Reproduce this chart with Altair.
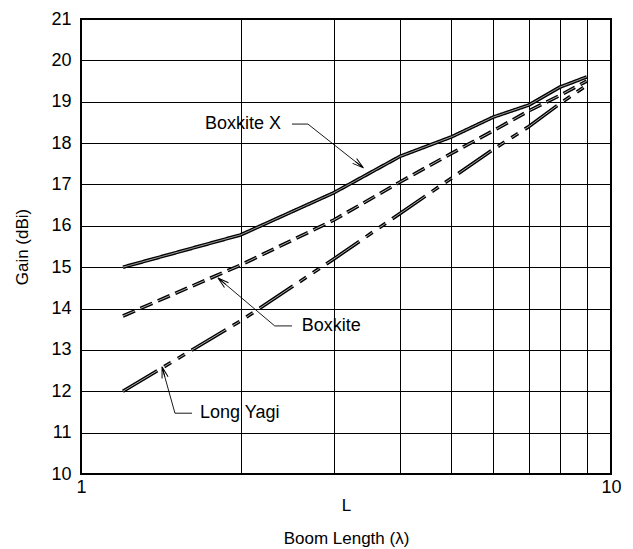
import altair as alt
import pandas as pd

# Boom length (wavelengths) at which gain was read for each antenna
boom_length = [1.2, 2, 3, 4, 5, 6, 7, 8, 9]

# Gain (dBi) for each design
gain_boxkite_x = [15.0, 15.78, 16.8, 17.68, 18.15, 18.63, 18.92, 19.35, 19.6]
gain_boxkite = [13.82, 15.05, 16.14, 17.06, 17.75, 18.3, 18.78, 19.15, 19.5]
gain_long_yagi = [12.0, 13.7, 15.2, 16.3, 17.15, 17.85, 18.4, 18.95, 19.4]

series_names = ["Boxkite X", "Boxkite", "Long Yagi"]
series_dash = [[1, 0], [13, 6], [40, 8, 8, 8, 8, 8]]

# Callout labels: text anchor, leader elbow/start, and arrow tip on the curve
label_text = ["Boxkite X", "Boxkite", "Long Yagi"]
label_L = [1.714, 2.61, 1.677]
label_gain = [18.46, 13.58, 11.47]
leader_start_L = [2.50, 2.50, 1.62]
leader_elbow_L = [2.68, 2.32, 1.504]
tip_L = [3.41, 1.813, 1.422]
tip_gain = [17.40, 14.74, 12.59]
arrow_angle = [128.7, 310.1, 344.2]

FONT = "Liberation Sans"

rows = []
for name, gains in zip(series_names, [gain_boxkite_x, gain_boxkite, gain_long_yagi]):
    for L, g in zip(boom_length, gains):
        rows.append({"series": name, "L": L, "gain": g})
curves = pd.DataFrame(rows)

leader_rows = []
for i, name in enumerate(label_text):
    leader_rows.append({"grp": name, "k": 0, "L": leader_start_L[i], "gain": label_gain[i]})
    leader_rows.append({"grp": name, "k": 1, "L": leader_elbow_L[i], "gain": label_gain[i]})
    leader_rows.append({"grp": name, "k": 2, "L": tip_L[i], "gain": tip_gain[i]})
leaders = pd.DataFrame(leader_rows)

labels = pd.DataFrame({"label": label_text, "L": label_L, "gain": label_gain})
arrows = pd.DataFrame({"L": tip_L, "gain": tip_gain, "angle": arrow_angle})

x_axis = alt.Axis(
    values=list(range(1, 11)),
    format="~g",
    labelExpr="datum.value == 1 || datum.value == 10 ? datum.label : ''",
    labelPadding=4,
    labelFlush=False,
    labelOverlap=False,
    title=["L", "Boom Length (λ)"],
    titleLineHeight=33,
    titleY=36,
    titleBaseline="alphabetic",
)
y_axis = alt.Axis(
    values=list(range(10, 22)),
    labelPadding=10,
    labelFlush=False,
    title="Gain (dBi)",
    titleX=-59,
    titleY=227.5,
    titleAngle=270,
    titleAlign="center",
    titleBaseline="middle",
)

x_enc = alt.X("L:Q", scale=alt.Scale(type="log", domain=[1, 10]), axis=x_axis)
y_enc = alt.Y("gain:Q", scale=alt.Scale(domain=[10, 21]), axis=y_axis)
dash_enc = alt.StrokeDash(
    "series:N",
    scale=alt.Scale(domain=series_names, range=series_dash),
    legend=None,
)

# Each curve is drawn as a heavy black stroke with a thin white core (double line)
outer = alt.Chart(curves).mark_line(color="black", strokeWidth=3.6).encode(
    x=x_enc, y=y_enc, strokeDash=dash_enc, detail="series:N"
)
inner = alt.Chart(curves).mark_line(color="white", strokeWidth=0.8, opacity=0.85).encode(
    x=x_enc, y=y_enc, strokeDash=dash_enc, detail="series:N"
)

leader_lines = alt.Chart(leaders).mark_line(color="black", strokeWidth=0.9).encode(
    x=x_enc, y=y_enc, detail="grp:N", order="k:Q"
)

arrow_heads = alt.Chart(arrows).mark_point(
    shape="M0,0L-0.28,1M0,0L0.28,1M0,0L0,0.9",
    size=500,
    filled=False,
    stroke="black",
    strokeWidth=1,
    opacity=1,
).encode(x=x_enc, y=y_enc, angle=alt.Angle("angle:Q", scale=None))

label_marks = alt.Chart(labels).mark_text(
    align="left", baseline="middle", font=FONT, fontSize=18, color="black"
).encode(x=x_enc, y=y_enc, text="label:N")

chart = (
    alt.layer(outer, inner, leader_lines, arrow_heads, label_marks)
    .properties(
        width=530,
        height=455,
        padding={"left": 81, "top": 19, "right": 22, "bottom": 75},
        autosize=alt.AutoSizeParams(type="none"),
        background="white",
    )
    .configure_view(stroke="black", strokeWidth=2)
    .configure_axis(
        grid=True,
        gridColor="black",
        gridOpacity=1,
        gridWidth=1,
        domain=False,
        ticks=False,
        labelFont=FONT,
        labelFontSize=18,
        labelColor="black",
        titleFont=FONT,
        titleFontSize=17,
        titleFontWeight="normal",
        titleColor="black",
    )
)

chart.save("out.html", embed_options={"renderer": "svg", "actions": False})
